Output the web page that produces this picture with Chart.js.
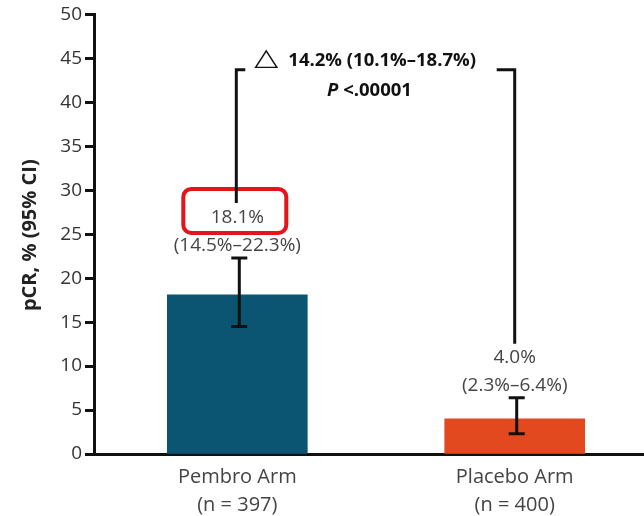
<!DOCTYPE html>
<html>
<head>
<meta charset="utf-8">
<script src="https://cdn.jsdelivr.net/npm/chart.js@4/dist/chart.umd.min.js"></script>
<style>
html,body{margin:0;padding:0;background:#fff;}
#c{display:block;}
</style>
</head>
<body>
<canvas id="c" width="644" height="516"></canvas>
<script>
const categories = ['Pembro Arm', 'Placebo Arm'];
const nLabels = ['(n = 397)', '(n = 400)'];
const pcr = [18.1, 4.0];
const ciLow = [14.5, 2.3];
const ciHigh = [22.3, 6.4];
const valueLabels = ['18.1%', '4.0%'];
const ciLabels = ['(14.5%–22.3%)', '(2.3%–6.4%)'];
const diffLabel = '14.2% (10.1%–18.7%)';
const pLabel = '<.00001';
const barColors = ['#0b5573', '#e2491e'];
const yMin = 0, yMax = 50, yStep = 5;

const annot = {
  id: 'annot',
  afterDatasetsDraw(chart) {
    const ctx = chart.ctx;
    const xs = chart.scales.x, ys = chart.scales.y;
    ctx.save();
    // error bars
    ctx.strokeStyle = '#111';
    ctx.lineWidth = 3;
    ctx.lineCap = 'butt';
    pcr.forEach((v, i) => {
      const x = xs.getPixelForValue(i) + 2;
      const yh = ys.getPixelForValue(ciHigh[i]);
      const yl = ys.getPixelForValue(ciLow[i]);
      ctx.beginPath();
      ctx.moveTo(x, yh); ctx.lineTo(x, yl);
      ctx.moveTo(x - 8, yh); ctx.lineTo(x + 8, yh);
      ctx.moveTo(x - 8, yl); ctx.lineTo(x + 8, yl);
      ctx.stroke();
    });
    // value labels
    ctx.fillStyle = '#444';
    ctx.textAlign = 'center';
    ctx.textBaseline = 'middle';
    ctx.font = '19px "Open Sans"';
    const labY = [];
    pcr.forEach((v, i) => {
      const x = xs.getPixelForValue(i);
      const yh = ys.getPixelForValue(ciHigh[i]);
      ctx.fillText(ciLabels[i], x, yh - 12);
      ctx.fillText(valueLabels[i], x, yh - 40);
      labY.push(yh - 40);
    });
    // red highlight box
    const x0 = xs.getPixelForValue(0), x1 = xs.getPixelForValue(1);
    ctx.strokeStyle = '#e5141b';
    ctx.lineWidth = 4;
    ctx.beginPath();
    ctx.roundRect(x0 - 54, labY[0] - 29, 103, 44, 8);
    ctx.stroke();
    // bracket
    const yTop = ys.getPixelForValue(43.7);
    const lx = x0 - 1, rx = x1;
    ctx.strokeStyle = '#111';
    ctx.lineWidth = 3;
    ctx.beginPath();
    ctx.moveTo(lx, labY[0] - 15); ctx.lineTo(lx, yTop); ctx.lineTo(lx + 9, yTop);
    ctx.moveTo(rx - 18, yTop); ctx.lineTo(rx, yTop); ctx.lineTo(rx, labY[1] - 14);
    ctx.stroke();
    // delta symbol (stretched to match reference)
    ctx.fillStyle = '#111';
    ctx.font = 'bold 24px "DejaVu Sans"';
    ctx.textAlign = 'center';
    const tw = ctx.measureText('△').width;
    ctx.save();
    ctx.translate(lx + 30, yTop - 11);
    ctx.scale(24 / tw, 1);
    ctx.fillText('△', 0, 0);
    ctx.restore();
    // delta text
    ctx.textAlign = 'left';
    ctx.font = 'bold 18.5px "Open Sans"';
    ctx.fillText(diffLabel, lx + 52, yTop - 9);
    const mid = (lx + rx) / 2 - 6;
    ctx.font = 'italic bold 18.5px "Open Sans"';
    const pw = ctx.measureText('P').width;
    ctx.font = 'bold 18.5px "Open Sans"';
    const rw = ctx.measureText(' ' + pLabel).width;
    const sx = mid - (pw + rw) / 2;
    ctx.font = 'italic bold 18.5px "Open Sans"';
    ctx.fillText('P', sx, yTop + 21);
    ctx.font = 'bold 18.5px "Open Sans"';
    ctx.fillText(' ' + pLabel, sx + pw, yTop + 21);
    // y title
    ctx.save();
    ctx.translate(30, (ys.top + ys.bottom) / 2 + 1);
    ctx.rotate(-Math.PI / 2);
    ctx.textAlign = 'center';
    ctx.font = 'bold 20px "Open Sans"';
    ctx.fillStyle = '#222';
    ctx.fillText('pCR, % (95% CI)', 0, 0);
    ctx.restore();
    ctx.restore();
  }
};

new Chart(document.getElementById('c'), {
  type: 'bar',
  data: {
    datasets: [{
      data: pcr.map((v, i) => ({ x: i, y: v })),
      backgroundColor: barColors,
      borderWidth: 0,
      barThickness: 140
    }]
  },
  options: {
    responsive: false,
    animation: false,
    devicePixelRatio: 1,
    layout: { padding: { top: 14, right: 0, left: 0, bottom: 0 } },
    plugins: { legend: { display: false }, tooltip: { enabled: false } },
    scales: {
      x: {
        type: 'linear',
        offset: false,
        min: -0.5166,
        max: 1.4661,
        afterBuildTicks(s) { s.ticks = categories.map((c, i) => ({ value: i })); },
        afterFit(s) { s.height = 62; },
        grid: { display: false, offset: false },
        border: { display: true, width: 3, color: '#111' },
        ticks: {
          autoSkip: false,
          maxRotation: 0,
          padding: 1,
          color: '#444',
          font: { family: 'Open Sans', size: 20, lineHeight: '28px' },
          callback: (v) => [categories[v], nLabels[v]]
        }
      },
      y: {
        min: yMin,
        max: yMax,
        afterFit(s) { s.width = 94; },
        grid: { display: true, drawOnChartArea: false, drawTicks: true, tickLength: 9, tickWidth: 3, tickColor: '#111' },
        border: { display: true, width: 3, color: '#111' },
        ticks: {
          stepSize: yStep,
          padding: 3,
          color: '#333',
          font: { family: 'Open Sans', size: 19 }
        }
      }
    }
  },
  plugins: [annot]
});
</script>
</body>
</html>
